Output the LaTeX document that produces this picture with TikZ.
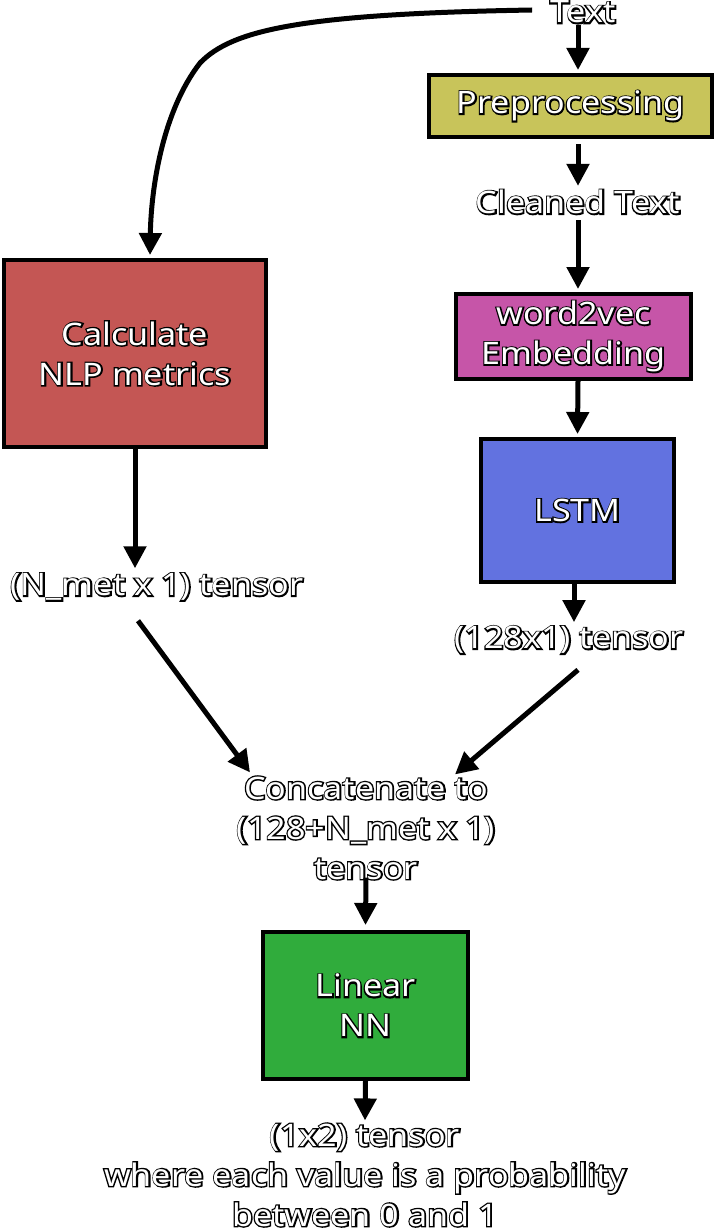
\documentclass[tikz,border=0pt]{standalone}
\usepackage{fontspec}
\setmainfont{Noto Sans}
\newfontfamily\olfont[FakeBold=9,FakeStretch=1.1]{Noto Sans}
\newfontfamily\fgfont[FakeStretch=1.1]{Noto Sans}
\usetikzlibrary{arrows.meta,calc}
\definecolor{prepc}{RGB}{200,196,90}
\definecolor{calcc}{RGB}{196,86,84}
\definecolor{wvc}{RGB}{198,85,168}
\definecolor{lstmc}{RGB}{98,114,224}
\definecolor{linc}{RGB}{48,172,60}
\tikzset{
  lbl/.style={inner sep=0pt,align=center,text=white,font=\fontsize{31}{40}\fgfont},
  lblbg/.style={inner sep=0pt,align=center,text=black,font=\fontsize{31}{40}\olfont},
  box/.style={draw=black,line width=4pt,inner sep=0pt},
  arr/.style={line width=5pt,-{Triangle[width=22pt,length=22pt]}},
}
\newcommand\halotext[3]{%
  \node[lblbg] at (#2) {#3};
  \node[lbl] (#1) at (#2) {#3};
}
\begin{document}
\begin{tikzpicture}[x=1pt,y=1pt]
\useasboundingbox (0,0) rectangle (716,-1228);
% boxes
\node[box,fill=prepc,minimum width=283pt,minimum height=62pt] (prep) at (570.5,-106) {};
\node[box,fill=calcc,minimum width=262pt,minimum height=187pt] (calc) at (135,-353.5) {};
\node[box,fill=wvc,minimum width=235pt,minimum height=85pt] (w2v) at (573.5,-336.5) {};
\node[box,fill=lstmc,minimum width=193pt,minimum height=143pt] (lstm) at (577.5,-510.5) {};
\node[box,fill=linc,minimum width=205pt,minimum height=147pt] (lin) at (365.5,-1005.5) {};
% texts
\halotext{txt}{583,-12}{Text}
\halotext{preptxt}{prep.center}{Preprocessing}
\halotext{clean}{578,-202}{Cleaned Text}
\halotext{w2vtxt}{w2v.center}{word2vec\\Embedding}
\halotext{lstmtxt}{lstm.center}{LSTM}
\halotext{calctxt}{calc.center}{Calculate\\NLP metrics}
\halotext{nmet}{157,-587}{(N\_met x 1) tensor}
\halotext{t128}{569,-640}{(128x1) tensor}
\halotext{concat}{366,-828}{Concatenate to\\(128+N\_met x 1)\\tensor}
\halotext{lintxt}{lin.center}{Linear\\NN}
\halotext{out}{365,-1175}{(1x2) tensor\\where each value is a probability\\between 0 and 1}
% connectors
\draw[line width=5pt,-{Triangle[width=22pt,length=22pt]}]
  ([xshift=-18pt,yshift=2pt]txt.west) .. controls (300,-14) and (232,-30) .. (200,-63)
  .. controls (162,-112) and (151,-190) .. ([xshift=15pt,yshift=3pt]calc.north);
\draw[arr] ([xshift=-5pt,yshift=-2pt]txt.south) -- ([xshift=7.5pt,yshift=3pt]prep.north);
\draw[arr] ([xshift=7.5pt,yshift=-5pt]prep.south) -- ([yshift=4pt]clean.north);
\draw[arr] ([yshift=-6pt]clean.south) -- ([xshift=4.5pt,yshift=3pt]w2v.north);
\draw[arr] ([xshift=4.5pt]w2v.south) -- ([yshift=3pt]lstm.north);
\draw[arr] ([xshift=-3.5pt]lstm.south) -- ([xshift=5pt,yshift=4pt]t128.north);
\draw[arr] (calc.south) -- ([xshift=-22pt,yshift=5pt]nmet.north);
\draw[arr] ([xshift=-19pt,yshift=-20pt]nmet.south) -- ([xshift=-116pt,yshift=4pt]concat.north);
\draw[arr] ([xshift=9pt,yshift=-16pt]t128.south) -- ([xshift=89pt,yshift=2pt]concat.north);
\draw[arr] ([yshift=2pt]concat.south) -- ([yshift=5pt]lin.north);
\draw[arr] (lin.south) -- ([yshift=3pt]out.north);
\end{tikzpicture}
\end{document}
